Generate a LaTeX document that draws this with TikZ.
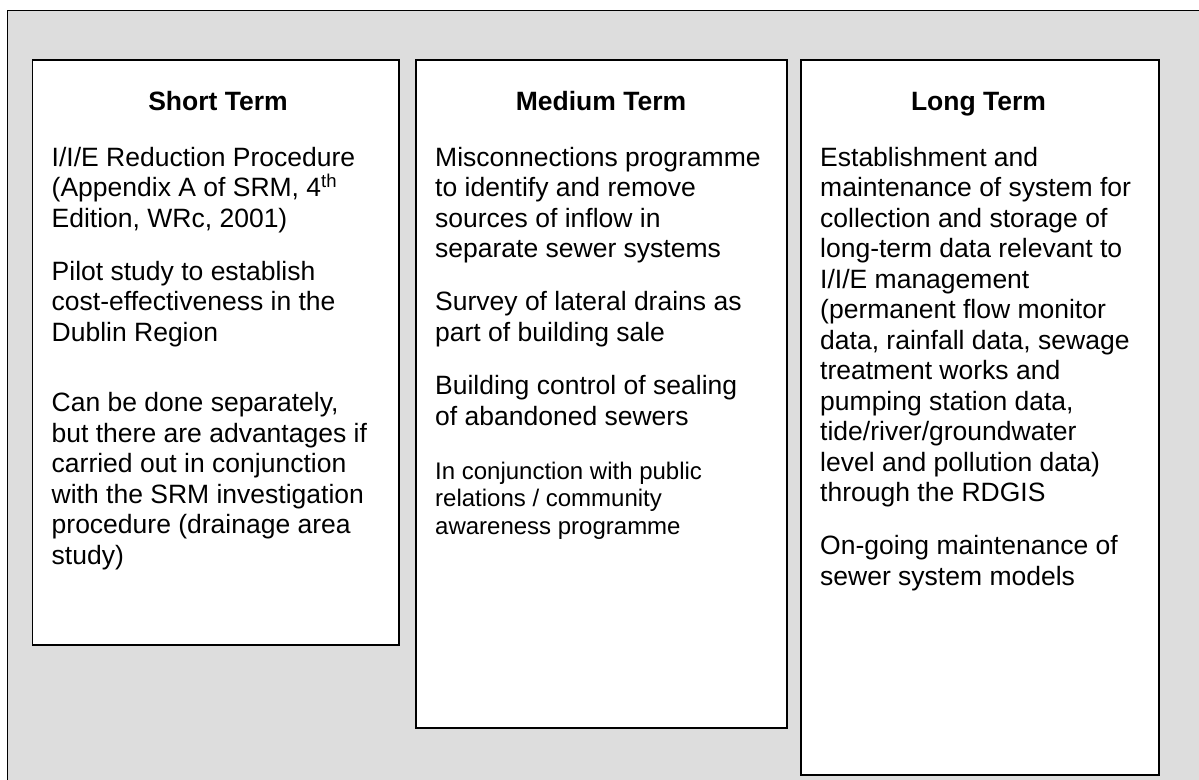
\documentclass[tikz,border=0pt]{standalone}
\usepackage{fontspec}
\setmainfont{Liberation Sans}
\definecolor{bggray}{RGB}{221,221,221}
\tikzset{
  body/.style={anchor=base west, inner sep=0pt, font=\fontsize{26.5}{30.5}\selectfont},
  smalltxt/.style={anchor=base west, inner sep=0pt, font=\fontsize{24}{27.7}\selectfont},
  ttl/.style={anchor=base, inner sep=0pt, font=\fontsize{26.5}{30.5}\selectfont\bfseries},
  panel/.style={draw=black, line width=1.8pt, fill=white, anchor=north west, inner sep=0pt},
  frame/.style={draw=black, line width=1.8pt},
}
\begin{document}
\begin{tikzpicture}[x=1pt,y=-1pt]
\useasboundingbox (0,0) rectangle (1199,779);
\clip (0,0) rectangle (1199,779);
% outer grey frame (runs off right and bottom edges)
\fill[bggray] (7.5,10.5) rectangle (1220,800);
\draw[frame] (1220,10.5) -- (7.5,10.5) -- (7.5,800);

% panels
\node[panel, minimum width=366.5pt, minimum height=585pt] (short) at (31.5,59) {};
\node[panel, minimum width=371pt, minimum height=668pt] (medium) at (415,59) {};
\node[panel, minimum width=358pt, minimum height=715pt] (long) at (800,59) {};

% titles
\node[ttl] (tshort) at (218,110) {Short Term};
\node[ttl] (tmedium) at (601,110) {Medium Term};
\node[ttl] (tlong) at (978.5,110) {Long Term};

% Short term text
\node[body] (s1) at (51.5,166) {I/I/E Reduction Procedure};
\node[body] (s2) at (51.5,196.5) {(Appendix A of SRM, 4\textsuperscript{th}};
\node[body] (s3) at (51.5,227) {Edition, WRc, 2001)};
\node[body] (s4) at (51.5,280) {Pilot study to establish};
\node[body] (s5) at (51.5,310.5) {cost-effectiveness in the};
\node[body] (s6) at (51.5,341) {Dublin Region};
\node[body] (s7) at (51.5,411.5) {Can be done separately,};
\node[body] (s8) at (51.5,442) {but there are advantages if};
\node[body] (s9) at (51.5,472.5) {carried out in conjunction};
\node[body] (s10) at (51.5,503) {with the SRM investigation};
\node[body] (s11) at (51.5,533.5) {procedure (drainage area};
\node[body] (s12) at (51.5,564) {study)};

% Medium term text
\node[body] (m1) at (435,166) {Misconnections programme};
\node[body] (m2) at (435,196.5) {to identify and remove};
\node[body] (m3) at (435,227) {sources of inflow in};
\node[body] (m4) at (435,257.5) {separate sewer systems};
\node[body] (m5) at (435,310.5) {Survey of lateral drains as};
\node[body] (m6) at (435,341) {part of building sale};
\node[body] (m7) at (435,394.5) {Building control of sealing};
\node[body] (m8) at (435,425) {of abandoned sewers};
\node[smalltxt] (m9) at (435,479) {In conjunction with public};
\node[smalltxt] (m10) at (435,506.7) {relations / community};
\node[smalltxt] (m11) at (435,534.4) {awareness programme};

% Long term text
\node[body] (l1) at (820,166) {Establishment and};
\node[body] (l2) at (820,196.5) {maintenance of system for};
\node[body] (l3) at (820,227) {collection and storage of};
\node[body] (l4) at (820,257.5) {long-term data relevant to};
\node[body] (l5) at (820,288) {I/I/E management};
\node[body] (l6) at (820,318.5) {(permanent flow monitor};
\node[body] (l7) at (820,349) {data, rainfall data, sewage};
\node[body] (l8) at (820,379.5) {treatment works and};
\node[body] (l9) at (820,410) {pumping station data,};
\node[body] (l10) at (820,440.5) {tide/river/groundwater};
\node[body] (l11) at (820,471) {level and pollution data)};
\node[body] (l12) at (820,501.5) {through the RDGIS};
\node[body] (l13) at (820,554.5) {On-going maintenance of};
\node[body] (l14) at (820,585) {sewer system models};
\end{tikzpicture}
\end{document}
